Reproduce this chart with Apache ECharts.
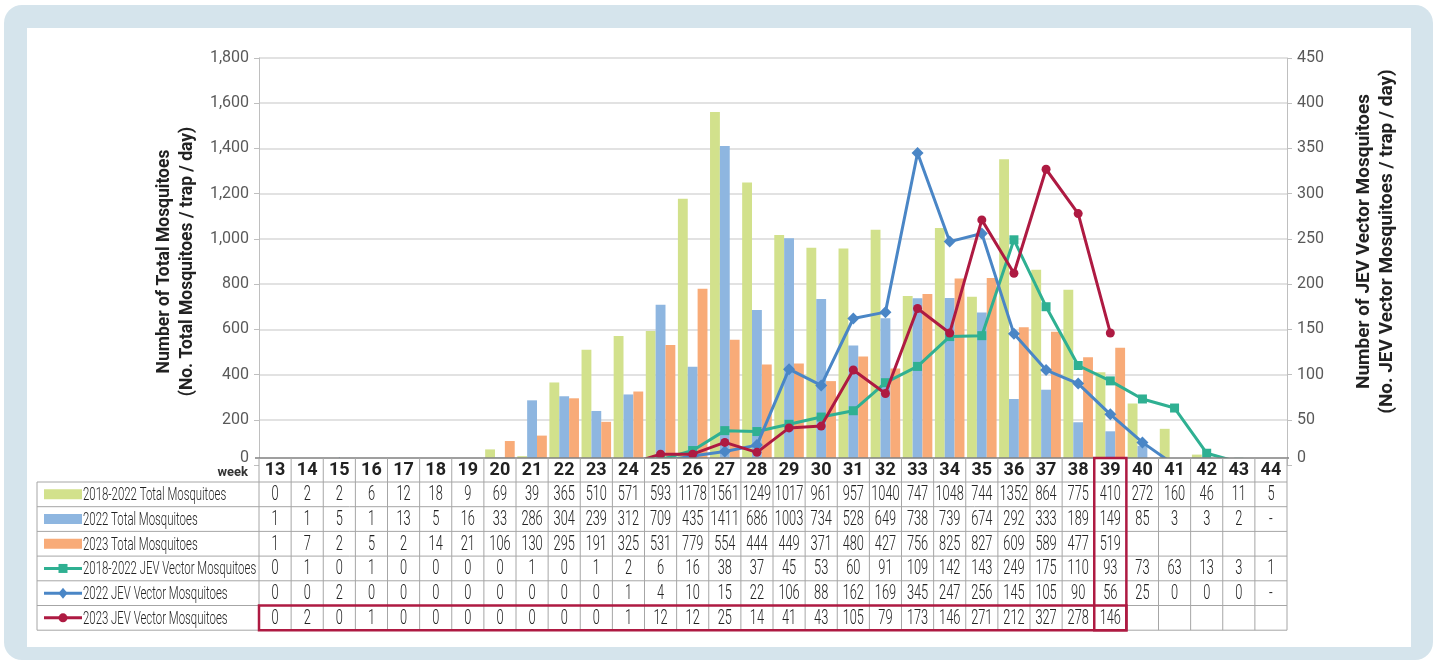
<!DOCTYPE html>
<html>
<head>
<meta charset="utf-8">
<script src="https://cdn.jsdelivr.net/npm/echarts@6/dist/echarts.min.js"></script>
<style>
  html, body { margin: 0; padding: 0; background: #fff; }
  #frame { position: absolute; left: 4px; top: 5px; width: 1429px; height: 655px; background: #d5e4ec; border-radius: 18px; }
  #panel { position: absolute; left: 27px; top: 28px; width: 1384px; height: 619px; background: #fff; }
  #chart { position: absolute; left: 0; top: 0; width: 1437px; height: 664px; }
</style>
</head>
<body>
<div id="frame"></div>
<div id="panel"></div>
<div id="chart"></div>
<script>
// 週 (week 13 - 44)
const weeks = ['13','14','15','16','17','18','19','20','21','22','23','24','25','26','27','28',
  '29','30','31','32','33','34','35','36','37','38','39','40','41','42','43','44'];

// 総蚊数 (No. / trap / day)
const total1822 = [0,2,2,6,12,18,9,69,39,365,510,571,593,1178,1561,1249,1017,961,957,1040,747,1048,744,1352,864,775,410,272,160,46,11,5];
const total2022 = [1,1,5,1,13,5,16,33,286,304,239,312,709,435,1411,686,1003,734,528,649,738,739,674,292,333,189,149,85,3,3,2,'-'];
const total2023 = [1,7,2,5,2,14,21,106,130,295,191,325,531,779,554,444,449,371,480,427,756,825,827,609,589,477,519];

// JEV媒介蚊数
const jev1822 = [0,1,0,1,0,0,0,0,1,0,1,2,6,16,38,37,45,53,60,91,109,142,143,249,175,110,93,73,63,13,3,1];
const jev2022 = [0,0,2,0,0,0,0,0,0,0,0,1,4,10,15,22,106,88,162,169,345,247,256,145,105,90,56,25,0,0,0,'-'];
const jev2023 = [0,2,0,1,0,0,0,0,0,0,0,1,12,12,25,14,41,43,105,79,173,146,271,212,327,278,146];

const names = [
  '2018-2022 Total Mosquitoes',
  '2022 Total Mosquitoes',
  '2023 Total Mosquitoes',
  '2018-2022 JEV Vector Mosquitoes',
  '2022 JEV Vector Mosquitoes',
  '2023 JEV Vector Mosquitoes'
];
const colors = ['#d2e18c', '#8eb6e0', '#f8ab78', '#2fb092', '#4a86c6', '#ae1a42'];
const symbols = [null, null, null, 'rect', 'diamond', 'circle'];
const tableRows = [total1822, total2022, total2023, jev1822, jev2022, jev2023];

const FONT = 'Roboto,sans-serif';
const RED = colors[5];

const chart = echarts.init(document.getElementById('chart'));

const option = {
  animation: false,
  color: colors,
  grid: { left: 259, top: 58, width: 1028, height: 407 },
  xAxis: {
    type: 'category',
    data: weeks,
    z: 10,
    axisLine: { show: false },
    axisTick: { show: false },
    axisLabel: { interval: 0, margin: -4, fontFamily: FONT, fontSize: 18, fontWeight: 'bold', color: '#222' }
  },
  yAxis: [
    {
      type: 'value', min: 0, max: 1800, interval: 200,
      name: 'Number of Total Mosquitoes\n(No. Total Mosquitoes / trap / day)',
      nameLocation: 'middle', nameRotate: 90, nameGap: 60,
      nameTextStyle: { fontFamily: FONT, fontSize: 17.5, fontWeight: 'bold', color: '#222', lineHeight: 23 },
      axisLine: { show: true, lineStyle: { color: '#bfbfbf' } },
      axisTick: { show: true, length: 5, lineStyle: { color: '#bfbfbf' } },
      axisLabel: {
        fontFamily: FONT, fontSize: 16, color: '#595959', margin: 10,
        formatter: v => v === 0 ? '{z|0}' : v.toLocaleString('en-US'),
        rich: { z: { fontFamily: FONT, fontSize: 16, color: '#595959', padding: [0, 0, 14, 0] } }
      },
      splitLine: { lineStyle: { color: '#d9d9d9', width: 1.5 } }
    },
    {
      type: 'value', min: 0, max: 450, interval: 50,
      name: 'Number of JEV Vector Mosquitoes\n(No. JEV Vector Mosquitoes / trap / day)',
      nameLocation: 'middle', nameRotate: 90, nameGap: 66,
      nameTextStyle: { fontFamily: FONT, fontSize: 19, fontWeight: 'bold', color: '#222', lineHeight: 23, padding: [0, 0, 0, 40] },
      axisLine: { show: true, lineStyle: { color: '#bfbfbf' } },
      axisTick: { show: true, length: 5, lineStyle: { color: '#bfbfbf' } },
      axisLabel: {
        fontFamily: FONT, fontSize: 16, color: '#595959', margin: 10,
        formatter: v => v === 0 ? '{z|0}' : String(v),
        rich: { z: { fontFamily: FONT, fontSize: 16, color: '#595959', padding: [0, 0, 14, 0] } }
      },
      splitLine: { show: false }
    }
  ],
  series: [
    { name: names[0], type: 'bar', data: total1822, barGap: '0%', barCategoryGap: '8%', z: 2 },
    { name: names[1], type: 'bar', data: total2022, barGap: '0%', barCategoryGap: '8%', z: 2 },
    { name: names[2], type: 'bar', data: total2023, barGap: '0%', barCategoryGap: '8%', z: 2 },
    { name: names[3], type: 'line', yAxisIndex: 1, data: jev1822, symbol: 'rect', symbolSize: 9, lineStyle: { width: 3 }, z: 3 },
    { name: names[4], type: 'line', yAxisIndex: 1, data: jev2022, symbol: 'diamond', symbolSize: 12, lineStyle: { width: 3 }, z: 4 },
    { name: names[5], type: 'line', yAxisIndex: 1, data: jev2023, symbol: 'circle', symbolSize: 9, lineStyle: { width: 3 }, z: 5 }
  ]
};
chart.setOption(option);

// データテーブル (列位置はx軸から取得)
const cx = weeks.map(w => chart.convertToPixel({ xAxisIndex: 0 }, w));
const colW = cx[1] - cx[0];
const left = cx[0] - colW / 2;
const right = left + colW * weeks.length;
const weekTop = 458, headTop = 482, rowH = 24.7, headLeft = 37;
const bottom = headTop + rowH * tableRows.length;
const gridStroke = { stroke: '#a6a6a6', lineWidth: 1 };
const els = [];

els.push({ type: 'rect', z: 8, shape: { x: left, y: weekTop, width: right - left, height: headTop - weekTop }, style: { fill: '#fff' } });
els.push({ type: 'line', z: 9, shape: { x1: left - 4, y1: weekTop, x2: right + 2, y2: weekTop }, style: { stroke: '#7f7f7f', lineWidth: 1.5 } });
for (let r = 0; r <= tableRows.length; r++) {
  const y = headTop + rowH * r;
  els.push({ type: 'line', z: 9, shape: { x1: headLeft, y1: y, x2: right, y2: y }, style: gridStroke });
}
els.push({ type: 'line', z: 9, shape: { x1: headLeft, y1: headTop, x2: headLeft, y2: bottom }, style: gridStroke });
for (let c = 0; c <= weeks.length; c++) {
  const x = left + colW * c;
  els.push({ type: 'line', z: 9, shape: { x1: x, y1: weekTop, x2: x, y2: bottom }, style: gridStroke });
}
// 値
tableRows.forEach((row, r) => {
  const y = headTop + rowH * r + rowH / 2 + 1;
  row.forEach((v, c) => {
    els.push({
      type: 'text', z: 9, x: cx[c], y: y, scaleX: 0.64,
      style: { text: String(v), fontFamily: FONT, fontSize: 20, fontWeight: 300, fill: '#222', align: 'center', verticalAlign: 'middle' }
    });
  });
  // 凡例 (表の見出し)
  const c = colors[r];
  if (symbols[r]) {
    els.push({ type: 'line', z: 9, shape: { x1: 44, y1: y - 1, x2: 82, y2: y - 1 }, style: { stroke: c, lineWidth: 3 } });
    const s = symbols[r] === 'diamond' ? 11 : 9;
    if (symbols[r] === 'circle') {
      els.push({ type: 'circle', z: 9, shape: { cx: 63, cy: y - 1, r: 4.5 }, style: { fill: c } });
    } else if (symbols[r] === 'rect') {
      els.push({ type: 'rect', z: 9, shape: { x: 63 - s / 2, y: y - 1 - s / 2, width: s, height: s }, style: { fill: c } });
    } else {
      els.push({ type: 'polygon', z: 9, shape: { points: [[63, y - 1 - s / 2], [63 + s / 2 - 1, y - 1], [63, y - 1 + s / 2], [63 - s / 2 + 1, y - 1]] }, style: { fill: c } });
    }
  } else {
    els.push({ type: 'rect', z: 9, shape: { x: 44, y: y - 6, width: 38, height: 10 }, style: { fill: c } });
  }
  els.push({
    type: 'text', z: 9, x: 83, y: y, scaleX: 0.6,
    style: { text: names[r], fontFamily: FONT, fontSize: 19, fontWeight: 300, fill: '#222', align: 'left', verticalAlign: 'middle' }
  });
});
els.push({
  type: 'text', z: 9, x: left - 11, y: (weekTop + headTop) / 2 + 3,
  style: { text: 'week', fontFamily: FONT, fontSize: 13, fontWeight: 'bold', fill: '#333', align: 'right', verticalAlign: 'middle' }
});
// 2023の強調枠
const i39 = weeks.indexOf('39');
els.push({ type: 'rect', z: 10, shape: { x: left, y: headTop + rowH * 5, width: colW * (i39 + 1), height: rowH }, style: { fill: 'none', stroke: RED, lineWidth: 2.5 } });
els.push({ type: 'rect', z: 10, shape: { x: left + colW * i39, y: weekTop, width: colW, height: bottom - weekTop }, style: { fill: 'none', stroke: RED, lineWidth: 2.5 } });

chart.setOption({ graphic: { elements: els } });
</script>
</body>
</html>
